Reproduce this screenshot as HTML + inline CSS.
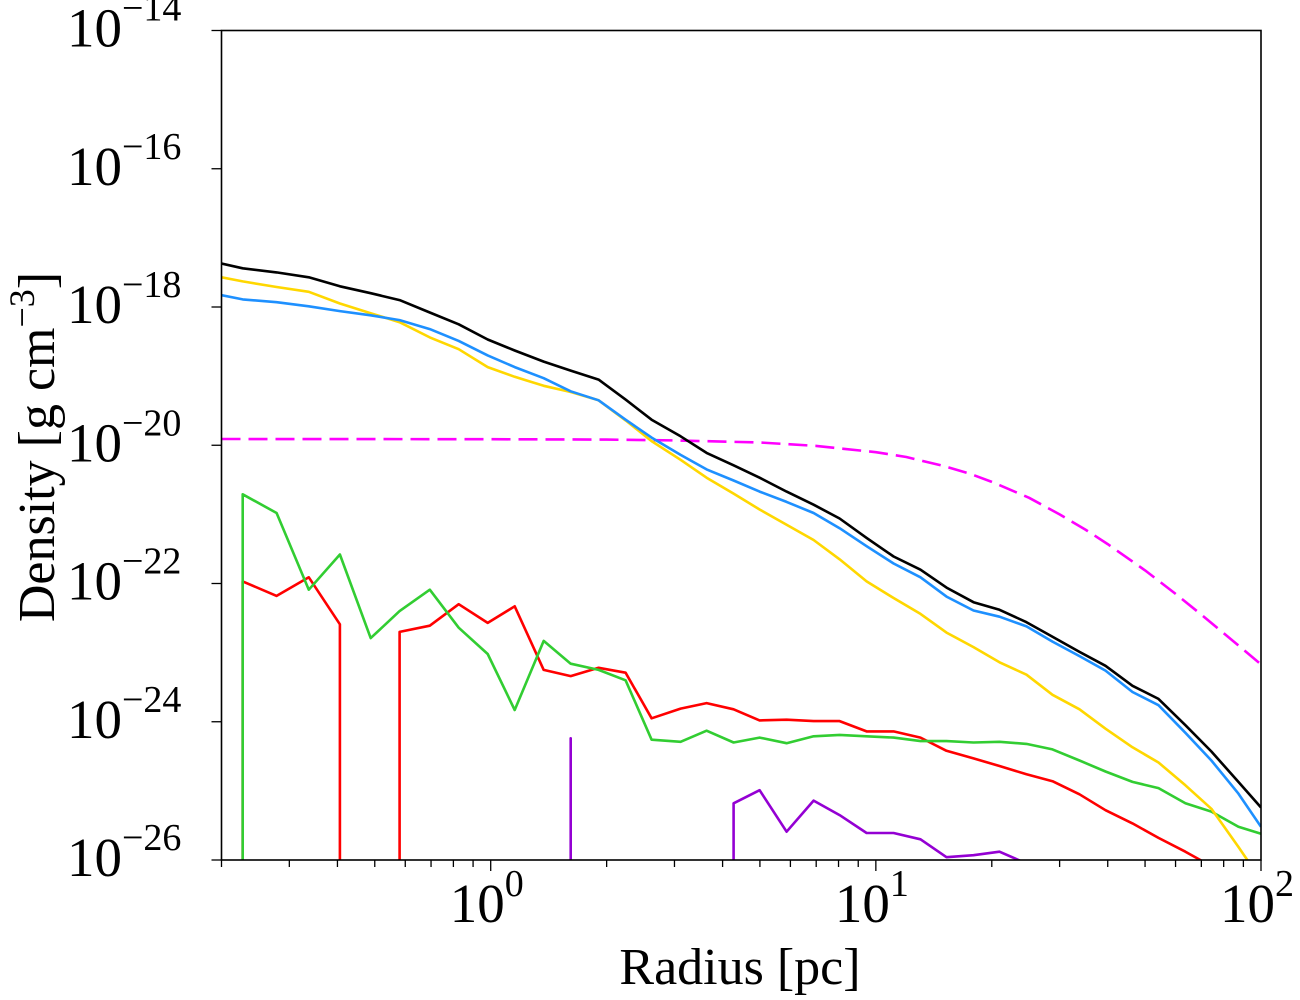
<!DOCTYPE html>
<html><head><meta charset="utf-8"><title>Density profile</title>
<style>
html,body{margin:0;padding:0;background:#fff;}
svg{display:block;}
text{font-family:"Liberation Serif","DejaVu Serif",serif;fill:#000;}
</style></head>
<body>
<svg id="chart" width="1300" height="1000" viewBox="0 0 1300 1000" xmlns="http://www.w3.org/2000/svg">
<rect x="0" y="0" width="1300" height="1000" fill="#fff"/>
<defs><clipPath id="plotclip"><rect x="221.5" y="30.5" width="1039.5" height="829.5"/></clipPath></defs>
<g id="series" clip-path="url(#plotclip)"></g>
<g id="axes"></g>
<text x="740" y="984" font-size="52" text-anchor="middle">Radius [pc]</text>
<text transform="translate(54,447) rotate(-90)" font-size="52" text-anchor="middle">Density [g cm<tspan dy="-20" font-size="36">−3</tspan><tspan dy="20">]</tspan></text>
</svg>
<script>
// radii (pc) of profile bins
const radii = [0.200,0.227,0.278,0.337,0.406,0.488,0.580,0.695,0.826,0.982,1.154,1.373,1.613,1.906,2.240,2.617,3.112,3.636,4.272,4.991,5.865,6.891,8.051,9.460,11.12,13.06,15.26,17.93,20.94,24.61,28.75,33.78,39.48,46.37,54.17,63.65,74.35,87.37,100.0];
// log10 density (g cm^-3); null = zero density
const totalLog = [-17.37,-17.44,-17.50,-17.57,-17.70,-17.80,-17.90,-18.08,-18.25,-18.47,-18.63,-18.79,-18.92,-19.05,-19.34,-19.63,-19.87,-20.11,-20.29,-20.47,-20.67,-20.86,-21.06,-21.34,-21.61,-21.80,-22.06,-22.27,-22.38,-22.56,-22.77,-22.99,-23.19,-23.48,-23.67,-24.05,-24.43,-24.87,-25.24];
const blueLog = [-17.83,-17.89,-17.93,-17.99,-18.06,-18.12,-18.19,-18.32,-18.49,-18.70,-18.87,-19.03,-19.22,-19.35,-19.63,-19.89,-20.14,-20.35,-20.51,-20.67,-20.82,-20.98,-21.20,-21.46,-21.71,-21.91,-22.19,-22.39,-22.48,-22.62,-22.84,-23.05,-23.26,-23.57,-23.76,-24.16,-24.56,-25.04,-25.52];
const yellowLog = [-17.57,-17.63,-17.71,-17.78,-17.95,-18.09,-18.22,-18.44,-18.61,-18.87,-19.01,-19.14,-19.23,-19.35,-19.64,-19.94,-20.21,-20.47,-20.70,-20.93,-21.15,-21.37,-21.65,-21.97,-22.21,-22.44,-22.71,-22.92,-23.14,-23.32,-23.61,-23.82,-24.10,-24.37,-24.59,-24.92,-25.26,-25.81,-26.29];
const greenLog = [null,-20.71,-20.98,-22.09,-21.58,-22.79,-22.40,-22.09,-22.64,-23.02,-23.83,-22.83,-23.16,-23.25,-23.40,-24.26,-24.29,-24.13,-24.30,-24.23,-24.31,-24.21,-24.19,-24.21,-24.23,-24.28,-24.28,-24.30,-24.29,-24.32,-24.40,-24.56,-24.72,-24.87,-24.96,-25.18,-25.30,-25.52,-25.62];
const redLog = [null,-21.97,-22.18,-21.91,-22.59,null,-22.70,-22.61,-22.30,-22.57,-22.33,-23.25,-23.34,-23.22,-23.29,-23.95,-23.81,-23.73,-23.82,-23.98,-23.97,-23.99,-23.99,-24.14,-24.14,-24.23,-24.42,-24.53,-24.64,-24.76,-24.86,-25.05,-25.28,-25.47,-25.68,-25.88,-26.09,-26.37,-26.58];
const purpleLog = [null,null,null,null,null,null,null,null,null,null,null,null,-24.24,null,null,null,null,null,-25.18,-24.99,-25.59,-25.14,-25.35,-25.61,-25.61,-25.70,-25.96,-25.93,-25.88,-26.05,-26.20,-26.35,-26.45,null,null,null,null,null,null];
// model profile (dashed)
const modelRadii = [0.2,0.5,1,2,3,5,7,10,12,15,17.5,20,25,30,35,40,45,50,60,70,85,100];
const modelLog = [-19.91,-19.911,-19.912,-19.918,-19.93,-19.96,-20.01,-20.10,-20.17,-20.30,-20.41,-20.53,-20.76,-21.00,-21.22,-21.43,-21.63,-21.81,-22.15,-22.45,-22.84,-23.17];
const xTickExps = [0,1,2];
const yTickExps = [-14,-16,-18,-20,-22,-24,-26];

const L=221.5,R=1261,T=30.5,B=860;
const xMin=Math.log10(0.2),xMax=2,yMin=-26,yMax=-14;
function xs(r){return L+(Math.log10(r)-xMin)/(xMax-xMin)*(R-L);}
function ys(lg){return B-(lg-yMin)/(yMax-yMin)*(B-T);}
const NS="http://www.w3.org/2000/svg";
const sg=document.getElementById('series'), ag=document.getElementById('axes');
function mk(tag,attrs,parent){const e=document.createElementNS(NS,tag);for(const k in attrs)e.setAttribute(k,attrs[k]);parent.appendChild(e);return e;}

function seriesPath(vals,xsArr){
  let d='',prev=false,prevX=0;const bot=B+20;
  for(let i=0;i<vals.length;i++){
    const x=xs(xsArr[i]).toFixed(1);
    if(vals[i]===null){ if(prev){d+=' L'+prevX+' '+bot;} prev=false; continue;}
    const y=ys(vals[i]).toFixed(1);
    if(!prev){ d+=(d?' M':'M')+x+' '+(i>0?bot:y)+' L'+x+' '+y; }
    else d+=' L'+x+' '+y;
    prev=true; prevX=x;
  }
  return d;
}
function drawSeries(name,vals,color,dash,xsArr){
  const p=mk('path',{d:seriesPath(vals,xsArr||radii),fill:'none',stroke:color,'stroke-width':2.6,'stroke-linejoin':'round'},sg);
  if(dash)p.setAttribute('stroke-dasharray',dash);
  
  
}
drawSeries('model-profile-dashed',modelLog,'#ff00ff','19 8',modelRadii);
drawSeries('purple-profile',purpleLog,'#9400d3');
drawSeries('red-profile',redLog,'#ff0000');
drawSeries('green-profile',greenLog,'#32cd32');
drawSeries('yellow-profile',yellowLog,'#ffd700');
drawSeries('blue-profile',blueLog,'#1e90ff');
drawSeries('total-profile',totalLog,'#000000');

// frame
const fr=mk('rect',{x:L,y:T,width:R-L,height:B-T,fill:'none',stroke:'#000','stroke-width':1.6},ag);


// x ticks
for(let e=-1;e<=1;e++){for(let m=1;m<10;m++){const r=m*Math.pow(10,e);if(r<0.2-1e-9||r>100+1e-9)continue;const x=xs(r);
  const t=mk('line',{x1:x,x2:x,y1:B,y2:B+(m===1?11:7),stroke:'#000','stroke-width':1.3},ag);
  
  }}
{const x=xs(100);
  const t=mk('line',{x1:x,x2:x,y1:B,y2:B+11,stroke:'#000','stroke-width':1.3},ag);
  
  }
xTickExps.forEach(e=>{const x=xs(Math.pow(10,e));
  const t=mk('text',{x:x-4,y:922,'font-size':55,'text-anchor':'middle'},ag);
  
  
  t.textContent='10';
  const s=mk('tspan',{dy:-26,'font-size':38},t);s.textContent=String(e);});
// y ticks
yTickExps.forEach(e=>{const y=ys(e);
  const t=mk('line',{x1:L-10,x2:L,y1:y,y2:y,stroke:'#000','stroke-width':1.3},ag);
  
  
  const lb=mk('text',{x:67,y:y+16,'font-size':55},ag);
  
  
  lb.textContent='10';
  const s=mk('tspan',{dy:-26,'font-size':38},lb);s.textContent='−'+String(-e);});
</script>
</body></html>
